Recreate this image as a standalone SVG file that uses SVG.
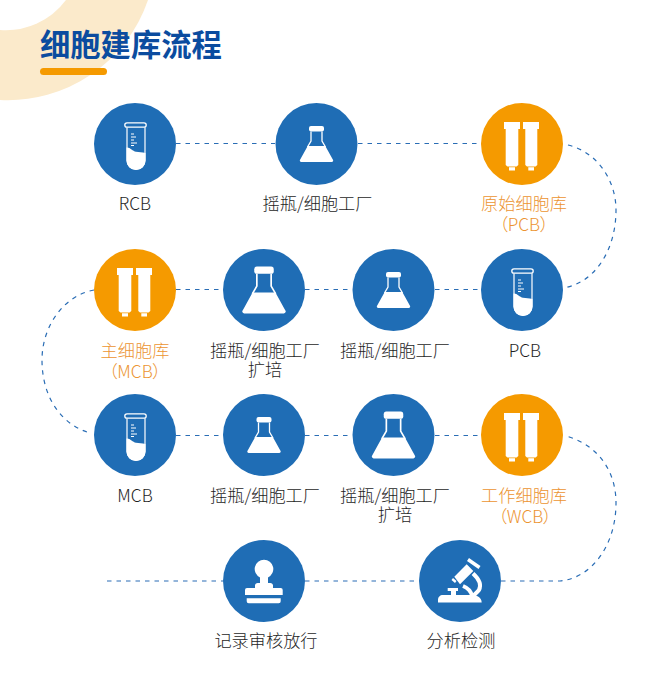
<svg xmlns="http://www.w3.org/2000/svg" width="655" height="676" viewBox="0 0 655 676">
<style>
.b{fill:#1f6db5}.o{fill:#f59a00}
.t{font-family:"Noto Sans CJK SC","Noto Sans",sans-serif;font-size:17.2px;font-weight:300;fill:#1e1e1e;text-anchor:middle}
.y{fill:#ec9431}
.p{font-feature-settings:"palt"}
.d{fill:none;stroke:#2a6db5;stroke-width:1.2;stroke-dasharray:4.500 5}
.w{fill:#fff}
</style>
<defs>
<g id="tube"><rect x="-10.200" y="-21.200" width="21.400" height="4.400" rx="2.200" fill="none" stroke="#fff" stroke-width="1.300"/><path d="M-8-16.500V16.500a9 9 0 0 0 18 0V-16.500" fill="none" stroke="#fff" stroke-width="1.200"/><path d="M-8.500 3.500c3.500-.5 6 3.500 9.500 4.300 3 .7 6 .4 9.500 1.200V16.500a9.500 9.500 0 0 1-19 0Z" class="w"/><path d="M-4-10h3M-4-7h5M-4-4h3M-4-1h6M-4 1.500h3" stroke="#fff" stroke-width="1"/></g>
<g id="flask"><rect x="-7.500" y="-18" width="15" height="5.500" rx="2" class="w"/><path d="M-5.500-12.500V-3L-9 3M5.500-12.500V-3L9 3" fill="none" stroke="#fff" stroke-width="1.300"/><path d="M-8.800 2H8.800L16.300 15.500a1.500 1.500 0 0 1-1.300 2.500H-15a1.500 1.500 0 0 1-1.300-2.500Z" class="w"/></g>
<g id="cart"><path d="M-18-22H-2V-15H-3.700V21L-5.500 22.500H-14.500L-16.300 21V-15H-18ZM-13 23.300H-7V26.500H-13ZM1-22H17V-15H15.300V21L13.500 22.500H5L3.300 21V-15H1ZM6.300 23.300H12V26.500H6.300Z" class="w"/></g>
</defs>
<path d="M0 0H148A148 148 0 0 1 0 100Z" fill="#fbeacb"/>
<path d="M0 0H66A75 75 0 0 1 0 30Z" fill="#fff"/>
<g id="title"><text x="40" y="55.500" font-family="'Noto Sans CJK SC',sans-serif" font-size="30.300" font-weight="700" fill="#0b4c9f">细胞建库流程</text><rect x="40" y="68" width="67" height="7" rx="3.500" class="o"/></g>
<g id="connectors">
<path class="d" d="M176 143.500H275M358 143.500H481"/>
<path class="d" d="M176 289.500H223M305 289.500H352M435 289.500H481"/>
<path class="d" d="M176 435.500H223M305 435.500H352M435 435.500H481"/>
<path class="d" d="M107 581H223M305 581H419M501 581H560C592 578 616 545 616 503C616 468 595 444 566 436"/>
<path class="d" d="M568 145C597 152 616 180 616 210C616 250 595 283 563 288"/>
<path class="d" d="M94 290C65 295 42 325 42 360C42 398 62 425 90 433"/>
</g>
<g id="n1"><circle class="b" cx="135" cy="144" r="41"/><use href="#tube" x="135" y="144"/><text class="t" x="135" y="210">RCB</text></g>
<g id="n2"><circle class="b" cx="316.500" cy="144" r="41"/><use href="#flask" x="316.500" y="144"/><text class="t" x="317.500" y="210">摇瓶/细胞工厂</text></g>
<g id="n3"><circle class="o" cx="522" cy="144" r="41"/><use href="#cart" x="522" y="144"/><text class="t y" x="524" y="210">原始细胞库</text><text class="t y p" x="524" y="231">（PCB）</text></g>
<g id="n4"><circle class="b" cx="522" cy="290" r="41"/><use href="#tube" x="522" y="290"/><text class="t" x="525" y="357">PCB</text></g>
<g id="n5"><circle class="b" cx="393.500" cy="290" r="41"/><use href="#flask" x="393.500" y="290"/><text class="t" x="395" y="357">摇瓶/细胞工厂</text></g>
<g id="n6"><circle class="b" cx="264" cy="290" r="41"/><use href="#flask" transform="translate(264 290) scale(1.300)"/><text class="t" x="265" y="357">摇瓶/细胞工厂</text><text class="t" x="265" y="376">扩培</text></g>
<g id="n7"><circle class="o" cx="135" cy="290" r="41"/><use href="#cart" x="135" y="290"/><text class="t y" x="135" y="357">主细胞库</text><text class="t y p" x="135" y="378">（MCB）</text></g>
<g id="n8"><circle class="b" cx="135" cy="435" r="41"/><use href="#tube" x="135" y="435"/><text class="t" x="135" y="502">MCB</text></g>
<g id="n9"><circle class="b" cx="264" cy="435" r="41"/><use href="#flask" x="264" y="435"/><text class="t" x="265" y="502">摇瓶/细胞工厂</text></g>
<g id="n10"><circle class="b" cx="393.500" cy="435" r="41"/><use href="#flask" transform="translate(393.500 435) scale(1.300)"/><text class="t" x="395" y="502">摇瓶/细胞工厂</text><text class="t" x="395" y="521">扩培</text></g>
<g id="n11"><circle class="o" cx="522" cy="435" r="41"/><use href="#cart" x="522" y="435"/><text class="t y" x="524" y="502">工作细胞库</text><text class="t y p" x="525" y="523">（WCB）</text></g>
<g id="n12"><circle class="b" cx="264" cy="581" r="41"/><path class="w" d="M264 559.700a9.300 9.300 0 0 1 4 17.700V583h2.300c1.500 0 2.700 1 2.700 2.500V588h7.700a2 2 0 0 1 2 2v5H245v-5a2 2 0 0 1 2-2h8v-2.500c0-1.500 1.200-2.500 2.700-2.500H260v-5.600a9.300 9.300 0 0 1 4-17.700ZM246.700 598.300h34v3a2 2 0 0 1-2 2h-30a2 2 0 0 1-2-2Z"/><text class="t" x="266" y="647">记录审核放行</text></g>
<g id="n13"><circle class="b" cx="460" cy="581" r="41"/><g class="w"><path d="M438 602.500V600c0-3 2-5 5-5h8v-4h-3.300v-3H458v3h-2v4h17c3 0 8.700 2 8.700 7.500Z"/><path d="M454.300 576.700L466.700 564.300L473.300 571L460 584.300ZM469 558L480.500 566L478.500 569L467 561ZM451.500 580L453 578L456.500 581L455 583Z"/></g><path d="M473 573.500C479 579 481.500 585 479 590C477.500 592 475 594 473 596M463 586C468 588 471 591 472 596" fill="none" stroke="#fff" stroke-width="4"/><text class="t" x="461" y="647">分析检测</text></g>
</svg>
